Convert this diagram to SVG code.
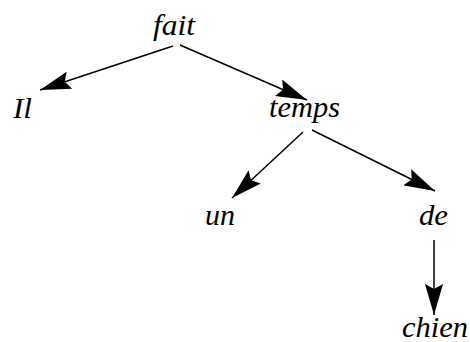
<svg xmlns="http://www.w3.org/2000/svg" width="470" height="342" viewBox="0 0 470 342">
<style>
text{font-family:"Liberation Serif","Times New Roman",serif;font-style:italic;font-size:29px;fill:#000}
.e{stroke:#000;stroke-width:1.5;fill:none;marker-end:url(#ah)}
</style>
<defs>
<marker id="ah" markerUnits="userSpaceOnUse" markerWidth="31" markerHeight="18" refX="31" refY="9" orient="auto" viewBox="0 0 31 18">
<path d="M0,0 L31,9 L0,18 L5,9 z" fill="#000"/>
</marker>
</defs>
<rect width="470" height="342" fill="#fff"/>
<g id="connectors">
<line class="e" x1="173" y1="46" x2="40" y2="90"/>
<line class="e" x1="180" y1="45" x2="307" y2="100"/>
<line class="e" x1="303" y1="132" x2="232" y2="198"/>
<line class="e" x1="312" y1="130" x2="435" y2="191"/>
<line class="e" x1="434" y1="240" x2="434" y2="315"/>
</g>
<g id="fait"><text x="153" y="35" textLength="42" lengthAdjust="spacingAndGlyphs">fait</text></g>
<g id="Il"><text x="13" y="118" textLength="19" lengthAdjust="spacingAndGlyphs">Il</text></g>
<g id="temps"><text x="269" y="117" textLength="71" lengthAdjust="spacingAndGlyphs">temps</text></g>
<g id="un"><text x="205" y="225" textLength="30" lengthAdjust="spacingAndGlyphs">un</text></g>
<g id="de"><text x="419" y="225" textLength="29" lengthAdjust="spacingAndGlyphs">de</text></g>
<g id="chien"><text x="402" y="337" textLength="66" lengthAdjust="spacingAndGlyphs">chien</text></g>
</svg>
